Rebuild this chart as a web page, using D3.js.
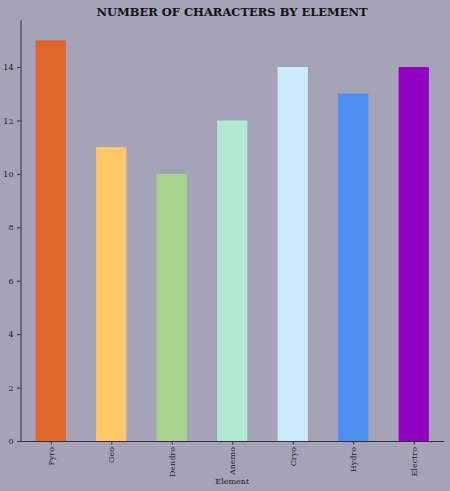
<!DOCTYPE html>
<html><head><meta charset="utf-8">
<script src="https://cdn.jsdelivr.net/npm/d3@7"></script>
<style>body{margin:0;background:#a5a3b8;} svg{display:block;}</style>
</head><body>
<script>
const categories = ["Pyro","Geo","Dendro","Anemo","Cryo","Hydro","Electro"];
const values = [15,11,10,12,14,13,14];
const colors = ["#e0662e","#ffc766","#a6d38e","#b2e9d0","#ccebff","#4d8ff0","#9200c2"];
const yTicks = [0,2,4,6,8,10,12,14];

const W=450,H=491;
const m={left:20.5,right:6,top:20.3,bottom:50};
const svg=d3.select("body").append("svg").attr("width",W).attr("height",H);
svg.append("rect").attr("width",W).attr("height",H).attr("fill","#a5a3b8");

const x=d3.scaleLinear().domain([-0.5,categories.length-0.5]).range([m.left,W-m.right]);
const y=d3.scaleLinear().domain([0,15.75]).range([H-m.bottom,m.top]);
const bw=x(0.25)-x(-0.25);

svg.selectAll("rect.bar").data(values).join("rect").attr("class","bar")
  .attr("x",(d,i)=>x(i)-bw/2).attr("width",bw)
  .attr("y",d=>y(d)).attr("height",d=>y(0)-y(d))
  .attr("fill",(d,i)=>colors[i]);

const font="DejaVu Serif";
const ax=svg.append("g").attr("transform",`translate(${m.left},0)`)
  .call(d3.axisLeft(y).tickValues(yTicks).tickSize(3.5).tickPadding(3.5).tickFormat(d3.format("d")));
const bx=svg.append("g").attr("transform",`translate(0,${y(0)})`)
  .call(d3.axisBottom(x).tickValues(d3.range(categories.length)).tickSize(3.5).tickPadding(3.5).tickFormat(i=>categories[i]));
[ax,bx].forEach(g=>{
  g.select(".domain").attr("stroke","#333").attr("stroke-width",1);
  g.selectAll(".tick line").attr("stroke","#333");
  g.selectAll(".tick text").attr("fill","#222").attr("font-family",font).attr("font-size",8);
});
ax.selectAll(".domain").attr("d",`M0.5,${y(0)}V${m.top}`);
bx.select(".domain").attr("d",`M${m.left},0.5H${W-m.right}`);
bx.selectAll(".tick text").attr("transform","rotate(-90)").attr("text-anchor","end")
  .attr("x",-6).attr("y",0).attr("dy","0.32em");

svg.append("text").attr("x",(m.left+W-m.right)/2).attr("y",484).attr("text-anchor","middle")
  .attr("font-family",font).attr("font-size",8).attr("fill","#222").text("Element");
svg.append("text").attr("x",232).attr("y",16).attr("text-anchor","middle")
  .attr("font-family",font).attr("font-weight","bold").attr("font-size",11.5).attr("fill","#111")
  .text("NUMBER OF CHARACTERS BY ELEMENT");
</script>
</body></html>
